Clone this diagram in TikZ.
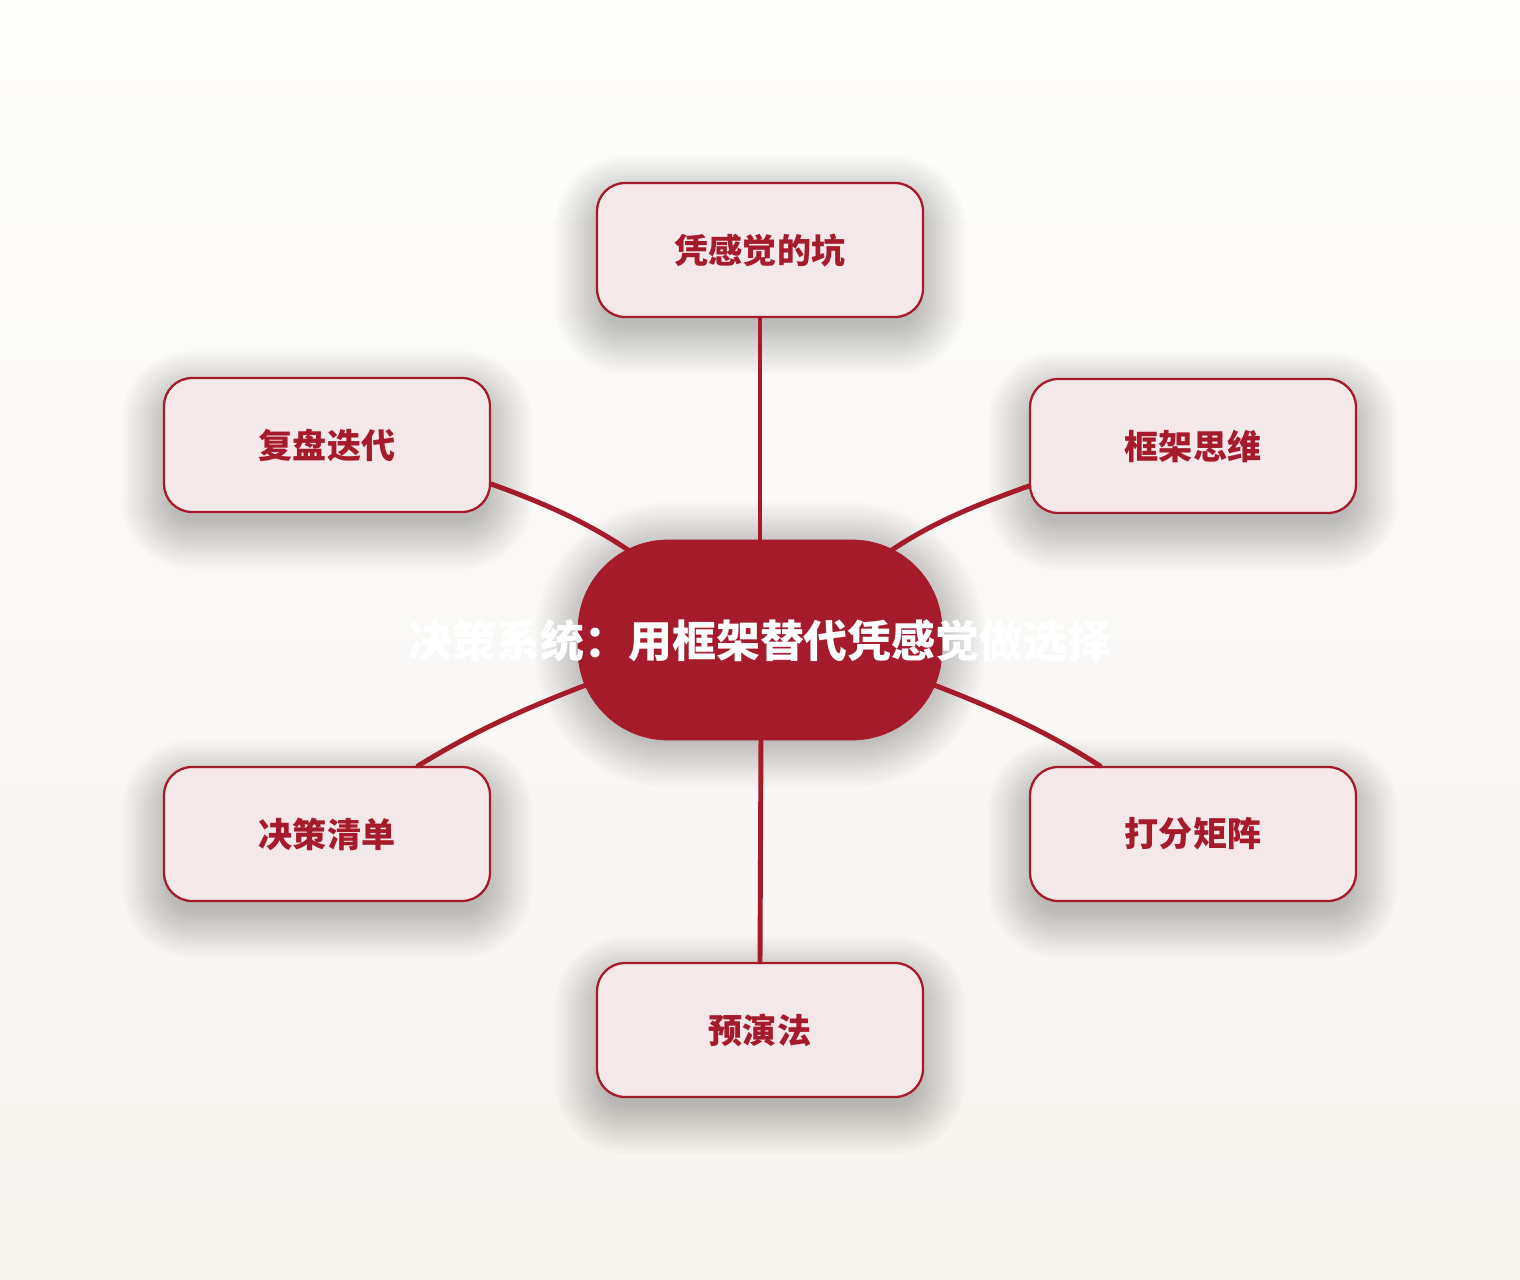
\documentclass[tikz,border=0pt]{standalone}
\usepackage{fontspec}
\setmainfont{Noto Sans CJK SC}
\usetikzlibrary{calc}
\definecolor{brand}{HTML}{A51B2B}
\definecolor{leaf}{HTML}{F4E8EA}
\definecolor{bgtop}{HTML}{FDFDFC}
\definecolor{bgbot}{HTML}{F7F4F0}
% soft shadow made of stacked translucent rounded rectangles: cx, cy, width, height, radius (px)
\newcommand{\mydropshade}[5]{%
  \foreach \k in {0,...,15}{
    \pgfmathsetmacro{\ee}{-6+3.2*\k}
    \pgfmathsetmacro{\rr}{max(1,#5+\ee)*0.02}
    \fill[shadowfill, rounded corners=\rr cm]
      ({#1-#3/2-\ee},{#2+15-#4/2-\ee}) rectangle ({#1+#3/2+\ee},{#2+15+#4/2+\ee});
  }}
\begin{document}
\begin{tikzpicture}[x=0.02cm,y=-0.02cm,
  shadowfill/.style={fill=black, opacity=0.0145},
  leafbox/.style={draw=brand, line width=1.3pt, fill=leaf, rounded corners=0.56cm,
    minimum width=6.52cm, minimum height=2.68cm, text=brand,
    font=\bfseries\fontsize{19.4}{24}\selectfont},
  hubshape/.style={fill=brand, draw=brand, line width=0.4pt, rounded corners=1.8cm,
    minimum width=7.28cm, minimum height=4cm, inner sep=0pt},
  hubtext/.style={text=white, font=\bfseries\fontsize{25}{30}\selectfont, inner sep=0pt},
  link/.style={draw=brand, line width=2.8pt, line cap=round}]

\useasboundingbox (0,0) rectangle (1520,1280);
% background gradient
\foreach \i in {0,...,63}{
  \pgfmathsetmacro{\mixval}{100-\i*100/63}
  \fill[bgtop!\mixval!bgbot] (0,{\i*20}) rectangle (1520,{\i*20+21});
}

% shadows
\mydropshade{760}{630}{364}{200}{90}
\mydropshade{760}{250}{326}{134}{28}
\mydropshade{327}{445}{326}{134}{28}
\mydropshade{1193}{446}{326}{134}{28}
\mydropshade{327}{834}{326}{134}{28}
\mydropshade{1193}{834}{326}{134}{28}
\mydropshade{760}{1030}{326}{134}{28}

% hub
\node[hubshape] (hub) at (760,640) {};

% satellites
\node[leafbox] (t)  at (760,250)  {凭感觉的坑};
\node[leafbox] (ul) at (327,445)  {复盘迭代};
\node[leafbox] (ur) at (1193,446) {框架思维};
\node[leafbox] (ll) at (327,834)  {决策清单};
\node[leafbox] (lr) at (1193,834) {打分矩阵};
\node[leafbox] (b)  at (760,1030) {预演法};

% connectors
\draw[link] (t.south) -- ($(hub.center)+(0,-92)$);
\draw[link] (b.north) -- ($(hub.center)+(1,92)$);
\draw[link] ($(ul.east)+(0,39)$) .. controls +(50,18) and +(-46,-32) .. ($(hub.center)+(-126,-86)$);
\draw[link] ($(ur.west)+(0,40)$) .. controls +(-50,18) and +(46,-32) .. ($(hub.center)+(126,-86)$);
\draw[link] ($(ll.north)+(91,0)$) .. controls +(52,-32) and +(-70,27) .. ($(hub.center)+(-174,45)$);
\draw[link] ($(lr.north)+(-93,0)$) .. controls +(-50,-32) and +(70,27) .. ($(hub.center)+(174,45)$);

\node[hubtext] (c) at (760,641) {决策系统：用框架替代凭感觉做选择};
\end{tikzpicture}
\end{document}
